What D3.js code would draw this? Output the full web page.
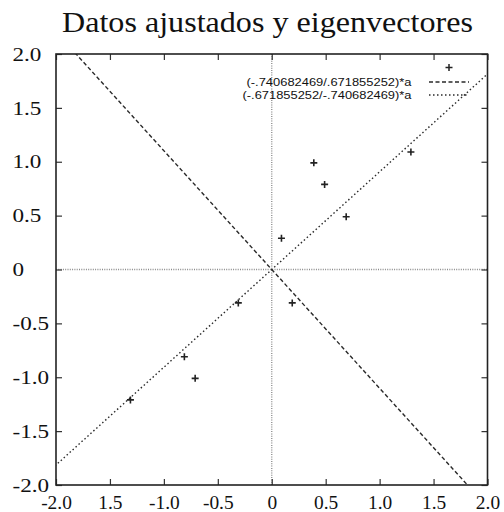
<!DOCTYPE html>
<html>
<head>
<meta charset="utf-8">
<script src="https://cdn.jsdelivr.net/npm/d3@7"></script>
<style>
  html, body { margin: 0; padding: 0; background: #fff; }
  svg { display: block; }
  .serif { font-family: "Liberation Serif", "Times New Roman", serif; }
  .sans { font-family: "Liberation Sans", Arial, sans-serif; }
</style>
</head>
<body>
<svg id="chart" width="504" height="512"></svg>
<script>
// ---- data ----
const titleText = "Datos ajustados y eigenvectores";

// mean-adjusted data set
const dataX = [0.69, -1.31, 0.39, 0.09, 1.29, 0.49, 0.19, -0.81, -0.31, -0.71];
const dataY = [0.49, -1.21, 0.99, 0.29, 1.09, 0.79, -0.31, -0.81, -0.31, -1.01];

// eigenvectors (x component, y component)
const eigenVecA = [-.740682469, .671855252];
const eigenVecB = [-.671855252, -.740682469];

const tickValues = [-2, -1.5, -1, -0.5, 0, 0.5, 1, 1.5, 2];
const xTickLabels = ["-2.0", "1.5", "-1.0", "-0.5", "0", "0.5", "1.0", "1.5", "2.0"];
const yTickLabels = ["-2.0", "-1.5", "-1.0", "-0.5", "0", "0.5", "1.0", "1.5", "2.0"];

// ---- layout ----
const plot = { left: 56, right: 487.5, top: 54, bottom: 485 };
const serif = "Liberation Serif, Times New Roman, serif";
const sans = "Liberation Sans, Arial, sans-serif";

const svg = d3.select("#chart");

const x = d3.scaleLinear().domain([-2, 2]).range([plot.left, plot.right]);
const y = d3.scaleLinear().domain([-2, 2]).range([plot.bottom, plot.top]);

// title
svg.append("text")
  .attr("class", "serif")
  .attr("x", 62).attr("y", 32)
  .attr("textLength", 411).attr("lengthAdjust", "spacingAndGlyphs")
  .attr("font-size", 29).attr("fill", "#111")
  .text(titleText);

// clip region for the plot area
svg.append("defs").append("clipPath").attr("id", "plotClip")
  .append("rect")
  .attr("x", plot.left).attr("y", plot.top)
  .attr("width", plot.right - plot.left).attr("height", plot.bottom - plot.top);

const inner = svg.append("g").attr("clip-path", "url(#plotClip)");

// zero axes
const zeroStyle = sel => sel.attr("stroke", "#8a8a8a").attr("stroke-width", 1.3)
  .attr("stroke-dasharray", "1,1.3").attr("fill", "none");
inner.append("line")
  .attr("x1", x(0)).attr("x2", x(0)).attr("y1", y(-2)).attr("y2", y(2))
  .call(zeroStyle);
inner.append("line")
  .attr("x1", x(-2)).attr("x2", x(2)).attr("y1", y(0)).attr("y2", y(0))
  .call(zeroStyle);

// eigenvector lines: y = (vx / vy) * a
const fmt = v => String(v).replace("0.", ".");
const eigenSeries = [
  { vec: eigenVecA, dash: "4,2.5" },
  { vec: eigenVecB, dash: "1.5,2.5" }
].map(s => ({
  ...s,
  slope: s.vec[0] / s.vec[1],
  label: "(" + fmt(s.vec[0]) + "/" + fmt(s.vec[1]) + ")*a"
}));

const lineGen = d3.line().x(d => x(d[0])).y(d => y(d[1]));
eigenSeries.forEach(s => {
  const pts = [-3, 3].map(a => [a, s.slope * a]);
  inner.append("path")
    .attr("d", lineGen(pts))
    .attr("fill", "none")
    .attr("stroke", "#2a2a2a")
    .attr("stroke-width", 1.4)
    .attr("stroke-dasharray", s.dash);
});

// data points as "+" markers
const plusPath = "M-3.5,0H3.5M0,-3.5V3.5";
inner.selectAll("path.pt")
  .data(dataX.map((d, i) => [d, dataY[i]]))
  .join("path")
  .attr("class", "pt")
  .attr("transform", d => `translate(${x(d[0])},${y(d[1])})`)
  .attr("d", plusPath)
  .attr("stroke", "#222")
  .attr("stroke-width", 1.6)
  .attr("fill", "none");

// axes (ticks drawn inward on all four sides)
function styleTicks(g) {
  g.attr("font-family", serif).attr("font-size", 18.5);
  g.select(".domain").remove();
  g.selectAll(".tick line").attr("stroke", "#333").attr("stroke-width", 1.2);
}

const bottomAxis = svg.append("g")
  .attr("transform", `translate(0,${plot.bottom})`)
  .call(d3.axisBottom(x).tickValues(tickValues)
    .tickFormat((d, i) => xTickLabels[i]).tickSizeInner(-6).tickSizeOuter(0))
  .call(styleTicks);
bottomAxis.selectAll(".tick text")
  .attr("class", "serif")
  .attr("y", 24).attr("dy", null)
  .attr("transform", "scale(1.05,1)")
  .attr("fill", "#111");

const leftAxis = svg.append("g")
  .attr("transform", `translate(${plot.left},0)`)
  .call(d3.axisLeft(y).tickValues(tickValues)
    .tickFormat((d, i) => yTickLabels[i]).tickSizeInner(-6).tickSizeOuter(0))
  .call(styleTicks);
leftAxis.selectAll(".tick text")
  .attr("class", "serif")
  .attr("x", 0).attr("y", 6.2).attr("dy", null)
  .attr("text-anchor", "start")
  .attr("transform", `translate(${12.5 - plot.left},0) scale(1.25,1)`)
  .attr("fill", "#111");

svg.append("g")
  .attr("transform", `translate(0,${plot.top})`)
  .call(d3.axisTop(x).tickValues(tickValues).tickFormat("").tickSizeInner(-6).tickSizeOuter(0))
  .call(styleTicks);

svg.append("g")
  .attr("transform", `translate(${plot.right},0)`)
  .call(d3.axisRight(y).tickValues(tickValues).tickFormat("").tickSizeInner(-6).tickSizeOuter(0))
  .call(styleTicks);

// plot frame
svg.append("rect")
  .attr("x", plot.left).attr("y", plot.top)
  .attr("width", plot.right - plot.left).attr("height", plot.bottom - plot.top)
  .attr("fill", "none").attr("stroke", "#222").attr("stroke-width", 1.6);

// key: data marker, then the two eigenvector lines
const key = { textRight: 411.5, textWidth: 165, sampleLeft: 429, sampleRight: 469, rows: [67.5, 82, 95] };
const keyG = svg.append("g");
keyG.append("path")
  .attr("transform", `translate(${(key.sampleLeft + key.sampleRight) / 2},${key.rows[0]})`)
  .attr("d", plusPath)
  .attr("stroke", "#222").attr("stroke-width", 1.5).attr("fill", "none");

eigenSeries.forEach((s, i) => {
  const ry = key.rows[i + 1];
  keyG.append("text")
    .attr("class", "sans")
    .attr("x", key.textRight).attr("y", ry + 4.2)
    .attr("text-anchor", "end")
    .attr("font-size", 11.5).attr("fill", "#111")
    .attr("textLength", key.textWidth + i * 4).attr("lengthAdjust", "spacingAndGlyphs")
    .text(s.label);
  keyG.append("line")
    .attr("x1", key.sampleLeft).attr("x2", key.sampleRight)
    .attr("y1", ry).attr("y2", ry)
    .attr("stroke", "#2a2a2a").attr("stroke-width", 1.4)
    .attr("stroke-dasharray", s.dash);
});
</script>
</body>
</html>
